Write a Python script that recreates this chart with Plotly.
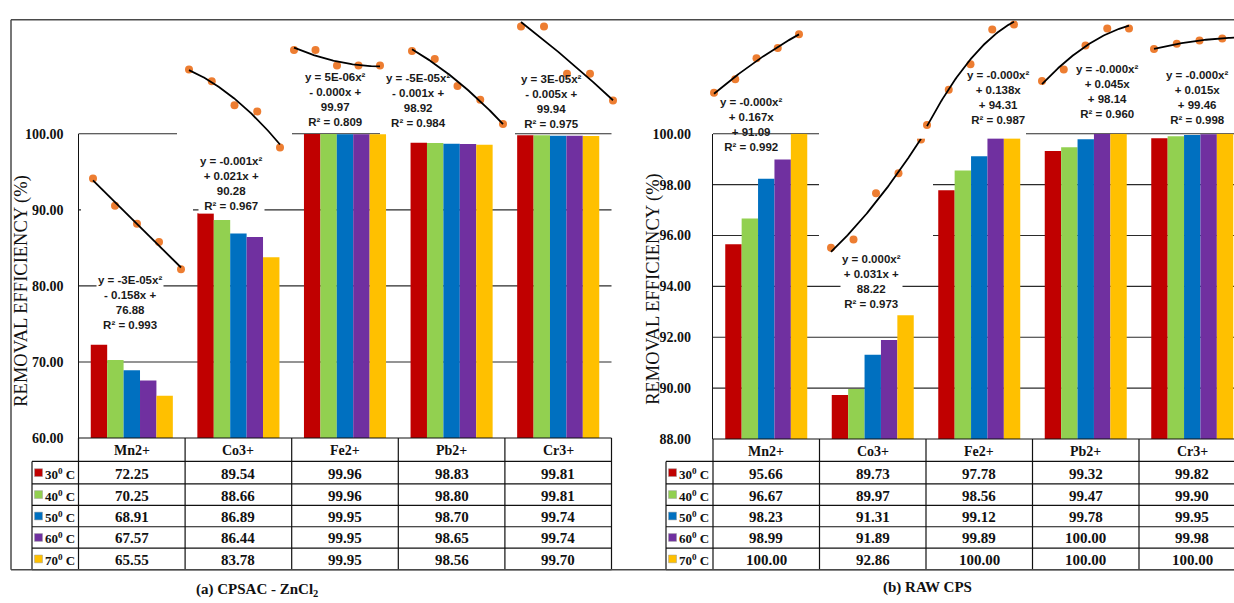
import numpy as np
import plotly.graph_objects as go

W, H = 1234, 603

# ---------------------------------------------------------------- data
categories = ["Mn2+", "Co3+", "Fe2+", "Pb2+", "Cr3+"]
temps = [30, 40, 50, 60, 70]
temp_labels = ["30", "40", "50", "60", "70"]
series_colors = ["#C00000", "#92D050", "#0070C0", "#7030A0", "#FFC000"]

# (a) CPSAC - ZnCl2 : removal efficiency (%) per ion, one list per temperature
cpsac_30 = [72.25, 89.54, 99.96, 98.83, 99.81]
cpsac_40 = [70.25, 88.66, 99.96, 98.80, 99.81]
cpsac_50 = [68.91, 86.89, 99.95, 98.70, 99.74]
cpsac_60 = [67.57, 86.44, 99.95, 98.65, 99.74]
cpsac_70 = [65.55, 83.78, 99.95, 98.56, 99.70]

# (b) RAW CPS
raw_30 = [95.66, 89.73, 97.78, 99.32, 99.82]
raw_40 = [96.67, 89.97, 98.56, 99.47, 99.90]
raw_50 = [98.23, 91.31, 99.12, 99.78, 99.95]
raw_60 = [98.99, 91.89, 99.89, 100.00, 99.98]
raw_70 = [100.00, 92.86, 100.00, 100.00, 100.00]

cpsac_ticks = [60, 70, 80, 90, 100]
raw_ticks = [88, 90, 92, 94, 96, 98, 100]

cpsac_eq = [
    "y = -3E-05x²<br>- 0.158x +<br>76.88<br>R² = 0.993",
    "y = -0.001x²<br>+ 0.021x +<br>90.28<br>R² = 0.967",
    "y = 5E-06x²<br>- 0.000x +<br>99.97<br>R² = 0.809",
    "y = -5E-05x²<br>- 0.001x +<br>98.92<br>R² = 0.984",
    "y = 3E-05x²<br>- 0.005x +<br>99.94<br>R² = 0.975",
]
raw_eq = [
    "y = -0.000x²<br>+ 0.167x<br>+ 91.09<br>R² = 0.992",
    "y = 0.000x²<br>+ 0.031x +<br>88.22<br>R² = 0.973",
    "y = -0.000x²<br>+ 0.138x<br>+ 94.31<br>R² = 0.987",
    "y = -0.000x²<br>+ 0.045x<br>+ 98.14<br>R² = 0.960",
    "y = -0.000x²<br>+ 0.015x<br>+ 99.46<br>R² = 0.998",
]

# ---------------------------------------------------------------- geometry (pixels)
SERIF = "Liberation Serif, Times New Roman, serif"
SANS = "Liberation Sans, Arial, sans-serif"
ROWS_Y = [466, 489, 511, 533, 555, 577]

panels = [
    dict(series=[cpsac_30, cpsac_40, cpsac_50, cpsac_60, cpsac_70], ticks=cpsac_ticks,
         yrange=[60, 100], x0=78.5, colw=106.6, ytop=130, ybot=442, key_left=32,
         standoff=11, title_x=22, title_y=291,
         caption="(a) CPSAC - ZnCl<sub>2</sub>", caption_x=257, caption_y=598,
         eqs=cpsac_eq,
         eq_pos=[(130, 303), (231, 181), (335, 95), (418, 96), (551, 97)],
         eq_bg=[True, True, False, False, False],
         # trendline inset placement: x of 30 and 70 degC, y of max and min value
         insets=[(93, 181, 176, 269), (189, 280, 64, 144), (294, 380, 44, 60),
                 (412, 503, 45, 120), (521, 613, 20, 96)],
         masks=[(85, 160, 185, 280), (183, 50, 287, 150), (380, 35, 514, 135)]),
    dict(series=[raw_30, raw_40, raw_50, raw_60, raw_70], ticks=raw_ticks,
         yrange=[88, 100], x0=713, colw=106.5, ytop=130, ybot=443, key_left=666,
         standoff=18, title_x=654, title_y=289,
         caption="(b) RAW CPS", caption_x=927, caption_y=595,
         eqs=raw_eq,
         eq_pos=[(751, 120), (871, 282), (998, 93), (1107, 87), (1197, 93)],
         eq_bg=[False, True, False, False, False],
         insets=[(714, 799, 28, 88), (831, 921, 136, 247), (927, 1014, 18, 121),
                 (1042, 1129, 22, 76), (1154, 1245, 31, 43)],
         masks=[(822, 110, 929, 252)]),
]


def fx(px):
    return px / W


def fy(py):
    return 1 - py / H


def label(px, py, text, font, **kw):
    d = dict(x=fx(px), y=fy(py), xref="paper", yref="paper", text=text, showarrow=False,
             xanchor="center", yanchor="middle", font=font)
    d.update(kw)
    return d


fig = go.Figure()
shapes_below, shapes_above, annotations = [], [], []
layout_axes = {}
inset_id = 3

for p_i, p in enumerate(panels):
    ax_n = "" if p_i == 0 else str(p_i + 1)
    xa, ya = "x" + ax_n, "y" + ax_n
    x_right = min(W, p["x0"] + 5 * p["colw"])
    x_range_end = -0.5 + (x_right - p["x0"]) / p["colw"]
    layout_axes["xaxis" + ax_n] = dict(
        domain=[fx(p["x0"]), fx(x_right)], range=[-0.5, x_range_end],
        visible=False, anchor=ya)
    layout_axes["yaxis" + ax_n] = dict(
        domain=[fy(p["ybot"]), fy(p["ytop"])], range=p["yrange"], anchor=xa,
        tickvals=p["ticks"], ticktext=[f"<b>{t:.2f}</b>" for t in p["ticks"]],
        tickfont=dict(family=SERIF, size=14, color="#111"),
        showgrid=False, zeroline=False, showline=True, linecolor="#111",
        linewidth=1.2, ticks="", ticklabelstandoff=p["standoff"])

    y0, y1 = p["yrange"]

    def val_to_py(v, p=p, y0=y0, y1=y1):
        return p["ybot"] - (v - y0) / (y1 - y0) * (p["ybot"] - p["ytop"])

    # gridlines
    for t in p["ticks"][1:]:
        shapes_below.append(dict(type="line", xref="paper", yref="paper",
                                 x0=fx(p["x0"]), x1=fx(x_right),
                                 y0=fy(val_to_py(t)), y1=fy(val_to_py(t)),
                                 line=dict(color="#2b2b2b", width=1.1), layer="below"))
    # white plot areas of the trendline charts
    for (mx0, my0, mx1, my1) in p["masks"]:
        shapes_below.append(dict(type="rect", xref="paper", yref="paper",
                                 x0=fx(mx0), x1=fx(mx1), y0=fy(my1), y1=fy(my0),
                                 fillcolor="white", line=dict(width=0), layer="below"))

    # grouped bars
    for s_i, vals in enumerate(p["series"]):
        fig.add_trace(go.Bar(x=list(range(len(categories))), y=vals, xaxis=xa, yaxis=ya,
                             marker=dict(color=series_colors[s_i], line=dict(width=0)),
                             name=temp_labels[s_i] + "° C", showlegend=False))

    # data table
    line = dict(color="#111", width=1.2)
    edges = [p["x0"] + i * p["colw"] for i in range(6)]
    header_top = p["ybot"]
    shapes_above.append(dict(type="line", xref="paper", yref="paper", x0=fx(p["x0"]),
                             x1=fx(min(W, edges[-1])), y0=fy(header_top), y1=fy(header_top),
                             line=line, layer="above"))
    for ry in ROWS_Y:
        shapes_above.append(dict(type="line", xref="paper", yref="paper", x0=fx(p["key_left"]),
                                 x1=fx(min(W, edges[-1])), y0=fy(ry), y1=fy(ry),
                                 line=line, layer="above"))
    for ex in edges:
        if ex <= W:
            shapes_above.append(dict(type="line", xref="paper", yref="paper", x0=fx(ex), x1=fx(ex),
                                     y0=fy(header_top), y1=fy(ROWS_Y[-1]), line=line,
                                     layer="above"))
    shapes_above.append(dict(type="line", xref="paper", yref="paper", x0=fx(p["key_left"]),
                             x1=fx(p["key_left"]), y0=fy(ROWS_Y[0]), y1=fy(ROWS_Y[-1]),
                             line=line, layer="above"))

    for c_i, cat in enumerate(categories):
        cx = p["x0"] + (c_i + 0.5) * p["colw"]
        if cx > W:
            continue
        annotations.append(label(cx, (header_top + ROWS_Y[0]) / 2 + 1, f"<b>{cat}</b>",
                                 dict(family=SERIF, size=14, color="#111")))
        for s_i, vals in enumerate(p["series"]):
            cy = (ROWS_Y[s_i] + ROWS_Y[s_i + 1]) / 2 + 1
            annotations.append(label(cx, cy, f"<b>{vals[c_i]:.2f}</b>",
                                     dict(family=SERIF, size=15, color="#111")))
    for s_i in range(5):
        cy = (ROWS_Y[s_i] + ROWS_Y[s_i + 1]) / 2
        kx = p["key_left"] + 2.5
        shapes_above.append(dict(type="rect", xref="paper", yref="paper", x0=fx(kx),
                                 x1=fx(kx + 8), y0=fy(cy + 4), y1=fy(cy - 4),
                                 fillcolor=series_colors[s_i],
                                 line=dict(color="#9a9a9a", width=0.5), layer="above"))
        annotations.append(label(kx + 8, cy + 1, f"<b>{temp_labels[s_i]}<sup>0</sup> C</b>",
                                 dict(family=SERIF, size=13, color="#111"), xanchor="left"))

    # axis title and caption
    annotations.append(label(p["title_x"], p["title_y"], "REMOVAL EFFICIENCY (%)",
                             dict(family=SERIF, size=18.5, color="#111"), textangle=-90))
    annotations.append(label(p["caption_x"], p["caption_y"], f"<b>{p['caption']}</b>",
                             dict(family=SERIF, size=15, color="#111")))

    # polynomial trendline charts for each ion
    for c_i in range(len(categories)):
        vals = [s[c_i] for s in p["series"]]
        vmin, vmax = min(vals), max(vals)
        px30, px70, py_max, py_min = p["insets"][c_i]
        kx = (px70 - px30) / (temps[-1] - temps[0])
        ky = (py_min - py_max) / (vmax - vmin)
        dx0, dx1 = max(0, px30 - 12), min(W, px70 + 12)
        dy0, dy1 = py_max - 14, py_min + 14
        xr = [temps[0] + (dx0 - px30) / kx, temps[0] + (dx1 - px30) / kx]
        yr = [vmax - (dy1 - py_max) / ky, vmax - (dy0 - py_max) / ky]
        sx, sy = f"x{inset_id}", f"y{inset_id}"
        layout_axes[f"xaxis{inset_id}"] = dict(domain=[fx(dx0), fx(dx1)], range=xr,
                                               visible=False, anchor=sy)
        layout_axes[f"yaxis{inset_id}"] = dict(domain=[fy(dy1), fy(dy0)], range=yr,
                                               visible=False, anchor=sx)
        coef = np.polyfit(temps, vals, 2)
        tt = np.linspace(temps[0], temps[-1], 80)
        fig.add_trace(go.Scatter(x=temps, y=vals, xaxis=sx, yaxis=sy, mode="markers",
                                 marker=dict(color="#ED7D31", size=8), cliponaxis=False,
                                 showlegend=False))
        fig.add_trace(go.Scatter(x=tt, y=np.polyval(coef, tt), xaxis=sx, yaxis=sy,
                                 mode="lines", line=dict(color="black", width=1.8),
                                 cliponaxis=False, showlegend=False))
        inset_id += 1

        ex, ey = p["eq_pos"][c_i]
        annotations.append(label(ex, ey, f"<b>{p['eqs'][c_i]}</b>",
                                 dict(family=SANS, size=11.5, color="#1a1a1a"),
                                 bgcolor="white" if p["eq_bg"][c_i] else "rgba(0,0,0,0)",
                                 borderpad=1))

# outer frame
frame = dict(color="#4a4a4a", width=1.5)
shapes_above += [
    dict(type="line", xref="paper", yref="paper", x0=fx(11), x1=1, y0=fy(13), y1=fy(13),
         line=frame, layer="above"),
    dict(type="line", xref="paper", yref="paper", x0=fx(11), x1=fx(11), y0=fy(13), y1=fy(577),
         line=frame, layer="above"),
    dict(type="line", xref="paper", yref="paper", x0=fx(11), x1=1, y0=fy(577), y1=fy(577),
         line=frame, layer="above"),
]

fig.update_layout(
    width=W, height=H, margin=dict(l=0, r=0, t=0, b=0),
    paper_bgcolor="white", plot_bgcolor="white",
    barmode="group", bargap=0.23, bargroupgap=0,
    shapes=shapes_below + shapes_above, annotations=annotations,
    showlegend=False, **layout_axes)

fig.write_html("out.html")
